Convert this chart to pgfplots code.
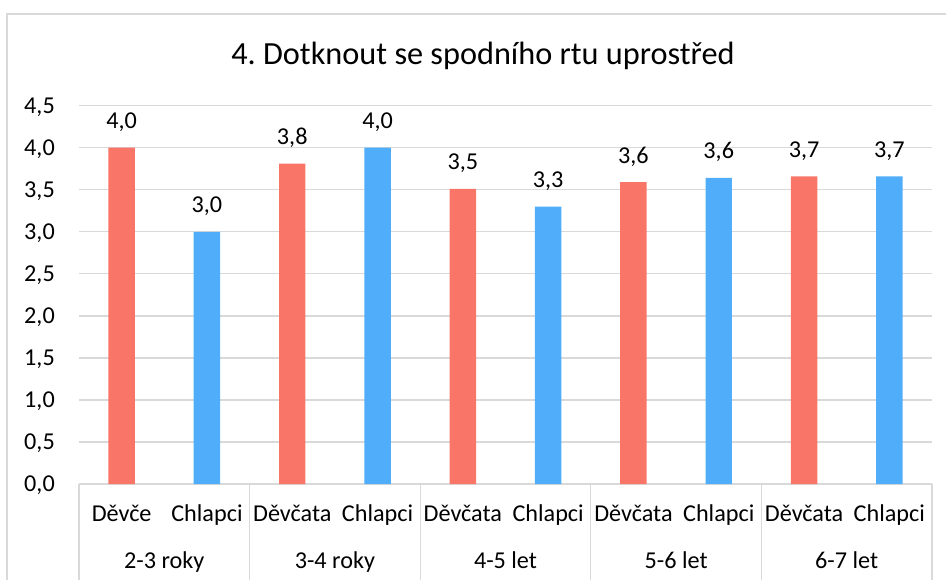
\documentclass[border=0pt]{standalone}
\usepackage{fontspec}
\setmainfont{Carlito}
\usepackage{pgfplots}
\pgfplotsset{compat=1.18}
\definecolor{girl}{RGB}{248,117,104}
\definecolor{boy}{RGB}{80,173,250}
\definecolor{gridc}{RGB}{217,217,217}
\frenchspacing
\begin{document}
\begin{tikzpicture}
\useasboundingbox (0bp,0bp) rectangle (946bp,580bp);
\draw[gridc, line width=2bp] (7bp,-5bp) -- (7bp,566bp) -- (960bp,566bp);
\node[anchor=base, inner sep=0pt, font=\fontsize{32.4}{34}\selectfont] at (483bp,515bp) {4. Dotknout se spodního rtu uprostřed};
\begin{axis}[
  at={(79bp,96bp)}, anchor=south west,
  scale only axis, width=853bp, height=378.3bp,
  xmin=-0.5, xmax=9.5, ymin=0, ymax=4.5,
  ybar, clip=false,
  axis line style={draw=none},
  major tick length=0pt,
  ymajorgrids, grid style={gridc, line width=1.3bp},
  ytick={0,0.5,1,1.5,2,2.5,3,3.5,4,4.5},
  xtick={0,1,2,3,4,5,6,7,8,9},
  xticklabels={Děvče,Chlapci,Děvčata,Chlapci,Děvčata,Chlapci,Děvčata,Chlapci,Děvčata,Chlapci},
  tick label style={font=\fontsize{24.3}{26}\selectfont},
  xticklabel style={anchor=base, inner sep=0pt, yshift=-37bp},
  yticklabel style={anchor=base east, inner sep=0pt, xshift=-24bp, yshift=-7.5bp},
  /pgf/number format/.cd, use comma, fixed, fixed zerofill, precision=1, assume math mode=true,
  /pgfplots/.cd,
  nodes near coords,
  every node near coord/.append style={anchor=base, inner sep=0pt, yshift=19bp, font=\fontsize{24.3}{26}\selectfont, text=black},
]
\addplot[fill=girl, draw=none, bar width=0.31, bar shift=0pt] coordinates {(0,4.0) (2,3.81) (4,3.51) (6,3.59) (8,3.66)};
\addplot[fill=boy, draw=none, bar width=0.31, bar shift=0pt] coordinates {(1,3.0) (3,4.0) (5,3.30) (7,3.64) (9,3.66)};
\pgfplotsinvokeforeach{-0.5,1.5,3.5,5.5,7.5,9.5}{
  \draw[gridc, line width=1.3bp] (axis cs:#1,0) -- ([yshift=-100bp]axis cs:#1,0);
}
\node[anchor=base, inner sep=0pt, font=\fontsize{24.3}{26}\selectfont] at ([yshift=-84bp]axis cs:0.5,0) {2-3 roky};
\node[anchor=base, inner sep=0pt, font=\fontsize{24.3}{26}\selectfont] at ([yshift=-84bp]axis cs:2.5,0) {3-4 roky};
\node[anchor=base, inner sep=0pt, font=\fontsize{24.3}{26}\selectfont] at ([yshift=-84bp]axis cs:4.5,0) {4-5 let};
\node[anchor=base, inner sep=0pt, font=\fontsize{24.3}{26}\selectfont] at ([yshift=-84bp]axis cs:6.5,0) {5-6 let};
\node[anchor=base, inner sep=0pt, font=\fontsize{24.3}{26}\selectfont] at ([yshift=-84bp]axis cs:8.5,0) {6-7 let};
\end{axis}
\end{tikzpicture}
\end{document}
